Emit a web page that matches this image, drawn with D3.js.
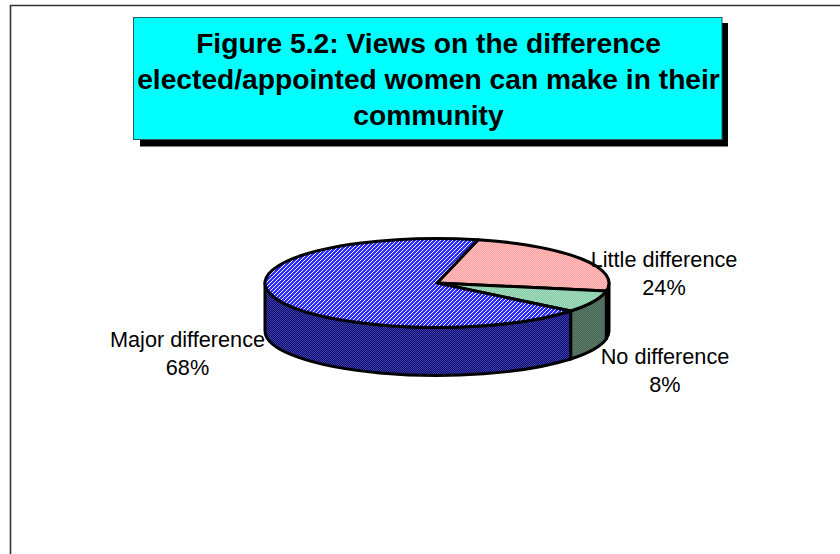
<!DOCTYPE html>
<html>
<head>
<meta charset="utf-8">
<script src="https://cdn.jsdelivr.net/npm/d3@7/dist/d3.min.js"></script>
<style>
html, body { margin: 0; padding: 0; background: #fff; }
svg { display: block; }
text { font-family: "Liberation Sans", Arial, sans-serif; fill: #000; }
</style>
</head>
<body>
<script>
const categories = ["Little difference", "No difference", "Major difference"];
const percents = [24, 8, 68];
const titleLines = [
  "Figure 5.2: Views on the difference",
  "elected/appointed women can make in their",
  "community"
];
const topColors = [["#ffa2a2", "#ffbcbc"], ["#88ccaa", "#a2dabc"], ["#2c2cff", "#ffffff"]];
const wallColors = [["#a86868", "#6a4040"], ["#46665a", "#5c7a64"], ["#0c0c70", "#4040a8"]];
const labelAnchors = [[664, 260], [665, 357], [187.5, 340]];

const width = 840, height = 554;
const cx = 437, cy = 283, rx = 172, ry = 44.5, depth = 48;
const startAngle = 13.8 * Math.PI / 180;

const svg = d3.select("body").append("svg").attr("width", width).attr("height", height);
const defs = svg.append("defs");

// Small repeating dither tiles for the slice fills; step 2 is a checker, step 4 a diagonal
function ditherTile(id, [base, speck], step) {
  const p = defs.append("pattern").attr("id", id).attr("patternUnits", "userSpaceOnUse")
    .attr("width", 4).attr("height", 4);
  p.append("rect").attr("width", 4).attr("height", 4).attr("fill", base);
  d3.range(4).forEach(x => d3.range(4).forEach(y => {
    if ((x + y) % step === 0) {
      p.append("rect").attr("x", x).attr("y", y).attr("width", 1).attr("height", 1).attr("fill", speck);
    }
  }));
}
topColors.forEach((c, i) => ditherTile("top" + i, c, i === 2 ? 4 : 2));
wallColors.forEach((c, i) => ditherTile("wall" + i, c, 2));

// Page frame: only the top and left edges fall inside the window
svg.append("path").attr("d", `M10.5 ${height}V5.5H${width}`)
  .attr("fill", "none").attr("stroke", "#333").attr("stroke-width", 1.6);

// Title box with its hard drop shadow
svg.append("rect").attr("x", 140).attr("y", 23).attr("width", 588).attr("height", 123.5).attr("fill", "#000");
svg.append("rect").attr("x", 133.5).attr("y", 17.5).attr("width", 588.5).attr("height", 122)
  .attr("fill", "#00ffff").attr("stroke", "#2a5a5a").attr("stroke-width", 1);
svg.append("text").attr("text-anchor", "middle").attr("font-weight", "bold").attr("font-size", 28.2)
  .selectAll("tspan").data(titleLines).join("tspan")
  .attr("x", 428.5).attr("y", (d, i) => 53 + i * 36).text(d => d);

// Angles run clockwise from twelve o'clock, as d3.pie gives them
const slices = d3.pie().sort(null).startAngle(startAngle).endAngle(startAngle + 2 * Math.PI)(percents);
const px = a => cx + rx * Math.sin(a);
const py = a => cy - ry * Math.cos(a);
const ellipseArc = (a0, a1, yOff, sweep) =>
  `A${rx} ${ry} 0 ${Math.abs(a1 - a0) > Math.PI ? 1 : 0} ${sweep} ${px(a1)} ${py(a1) + yOff}`;

const stroke = g => g.attr("stroke", "#000").attr("stroke-width", 3).attr("stroke-linejoin", "round");

// Outer walls are only visible across the front half of the ellipse
const walls = svg.append("g").call(stroke);
slices.forEach((s, i) => {
  const a0 = Math.max(s.startAngle, Math.PI / 2);
  const a1 = Math.min(s.endAngle, 3 * Math.PI / 2);
  if (a1 <= a0) return;
  walls.append("path")
    .attr("d", `M${px(a0)} ${py(a0)}${ellipseArc(a0, a1, 0, 1)}V${py(a1) + depth}${ellipseArc(a1, a0, depth, 0)}Z`)
    .attr("fill", `url(#wall${i})`);
});

// Top surface
svg.append("g").call(stroke).selectAll("path").data(slices).join("path")
  .attr("d", s => `M${cx} ${cy}L${px(s.startAngle)} ${py(s.startAngle)}${ellipseArc(s.startAngle, s.endAngle, 0, 1)}Z`)
  .attr("fill", (s, i) => `url(#top${i})`);

// Category and percentage labels
const labels = svg.append("g").attr("text-anchor", "middle").attr("font-size", 21.7);
categories.forEach((name, i) => {
  const [x, y] = labelAnchors[i];
  labels.append("text").attr("x", x).attr("y", y + 7).text(name);
  labels.append("text").attr("x", x).attr("y", y + 35).text(percents[i] + "%");
});
</script>
</body>
</html>
